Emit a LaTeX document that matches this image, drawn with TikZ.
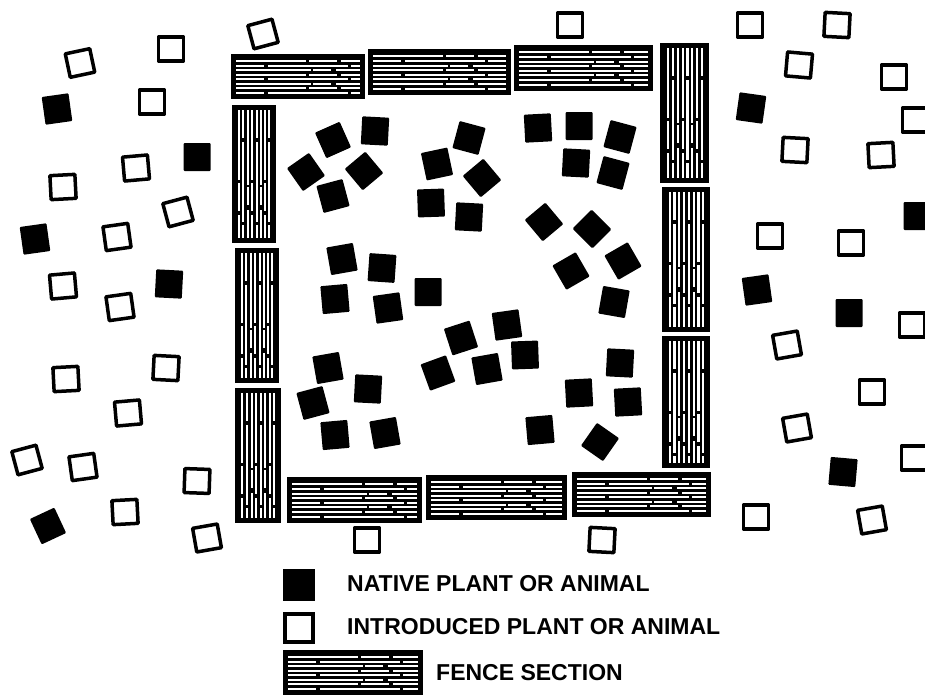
\documentclass[tikz,border=0pt]{standalone}
\usepackage{fontspec}
\setmainfont{Liberation Sans}
\tikzset{
  opensq/.style={draw=black,line width=3.5pt,line join=round},
  fenceline/.style={white,line width=2.1pt},
  fa/.style={dash pattern=on 70pt off 3pt on 28pt off 4pt on 55pt off 2pt},
  fb/.style={dash pattern=on 38pt off 4pt on 80pt off 3pt on 22pt off 2pt,dash phase=10pt},
  fc/.style={dash pattern=on 95pt off 2pt on 18pt off 5pt on 40pt off 3pt,dash phase=20pt},
  lbl/.style={anchor=west,inner sep=0pt,font=\bfseries\fontsize{23}{23}\selectfont}
}
\newcommand\nsq[3]{\begin{scope}[shift={(#1,#2)},rotate=#3]\fill[black,rounded corners=1pt] (-13.5,-14) rectangle (13.5,14);\end{scope}}
\newcommand\osq[3]{\begin{scope}[shift={(#1,#2)},rotate=#3]\draw[opensq] (-12.5,-12) rectangle (12.5,12);\end{scope}}
\newcommand\fenceH[4]{%
  \fill[black] (#1,#2) rectangle (#3,#4);
  \foreach \f/\s in {0.16/fa,0.26/fb,0.36/fc,0.46/fa,0.56/fb,0.66/fc,0.76/fa,0.86/fb}
    \draw[fenceline,\s] ({#1+5},{#2+(#4-#2)*\f}) -- ({#3-5},{#2+(#4-#2)*\f});
}
\newcommand\fenceV[4]{%
  \fill[black] (#1,#2) rectangle (#3,#4);
  \foreach \f/\s in {0.16/fa,0.26/fb,0.36/fc,0.46/fa,0.56/fb,0.66/fc,0.76/fa,0.85/fb}
    \draw[fenceline,\s] ({#1+(#3-#1)*\f},{#2+5}) -- ({#1+(#3-#1)*\f},{#4-5});
}
\begin{document}
\begin{tikzpicture}[x=1pt,y=-1pt]
\useasboundingbox (0,0) rectangle (925,696);
\clip (0,0) rectangle (925,696);
% fence
\fenceH{231}{54}{365}{99}
\fenceH{368}{49}{511}{95}
\fenceH{514}{45}{653}{91}
\fenceV{232}{105}{276}{243}
\fenceV{235}{248}{279}{383}
\fenceV{235}{388}{281}{523}
\fenceH{287}{477}{422}{523}
\fenceH{426}{475}{567}{520}
\fenceH{572}{472}{711}{517}
\fenceV{660}{43}{709}{183}
\fenceV{662}{187}{710}{332}
\fenceV{662}{336}{710}{468}
% native plants inside
\foreach \x/\y/\a in {333/140/24, 375/131/-3, 306/172/35, 364/171/40, 333/196/15,
  469/138/-15, 437/164/12, 482/178/40, 431/203/2, 469/217/-3,
  342/259/10, 382/268/-4, 335/299/5, 388/308/8, 428/292/0,
  461/338/18, 507/325/8, 438/373/20, 487/369/10, 525/355/2,
  328/368/10, 368/389/-3, 313/403/15, 335/435/5, 385/433/10,
  538/128/3, 579/126/0, 620/137/-15, 576/163/-3, 613/173/-15,
  544/222/40, 592/229/45, 571/271/30, 623/261/30, 614/302/-10,
  620/363/-3, 579/393/3, 628/402/3, 540/430/5, 600/442/-35}
  {\nsq{\x}{\y}{\a}}
% native plants outside
\foreach \x/\y/\a in {57/109/8, 197/157/0, 35/239/8, 169/284/-3, 48/526/25,
  751/108/-8, 917/216/0, 757/290/8, 849/313/0, 843/472/-5}
  {\nsq{\x}{\y}{\a}}
% introduced plants
\foreach \x/\y/\a in {80/63/12, 171/49/0, 152/102/0, 263/34/15, 136/168/5, 63/187/3,
  178/212/15, 117/237/8, 63/286/5, 120/307/8, 66/379/3, 166/368/-3, 128/413/5,
  27/460/15, 83/467/8, 197/481/-2, 125/512/3, 207/538/10,
  750/25/0, 837/25/-3, 799/65/-5, 894/77/0, 915/120/0, 795/150/-3, 881/155/3,
  770/236/0, 851/243/0, 912/325/0, 787/345/10, 872/392/0, 797/428/10, 914/458/0,
  756/517/0, 872/520/10, 570/25/0, 367/540/0, 602/540/-3}
  {\osq{\x}{\y}{\a}}
% legend
\fill[black] (283,569) rectangle (315,601);
\draw[line width=3.5pt] (285,614) rectangle (313,642);
\fenceH{283}{650}{423}{695}
\node[lbl] (native) at (347,584) {NATIVE PLANT OR ANIMAL};
\node[lbl] (introduced) at (347,627) {INTRODUCED PLANT OR ANIMAL};
\node[lbl] (fence) at (436,673) {FENCE SECTION};
\end{tikzpicture}
\end{document}
